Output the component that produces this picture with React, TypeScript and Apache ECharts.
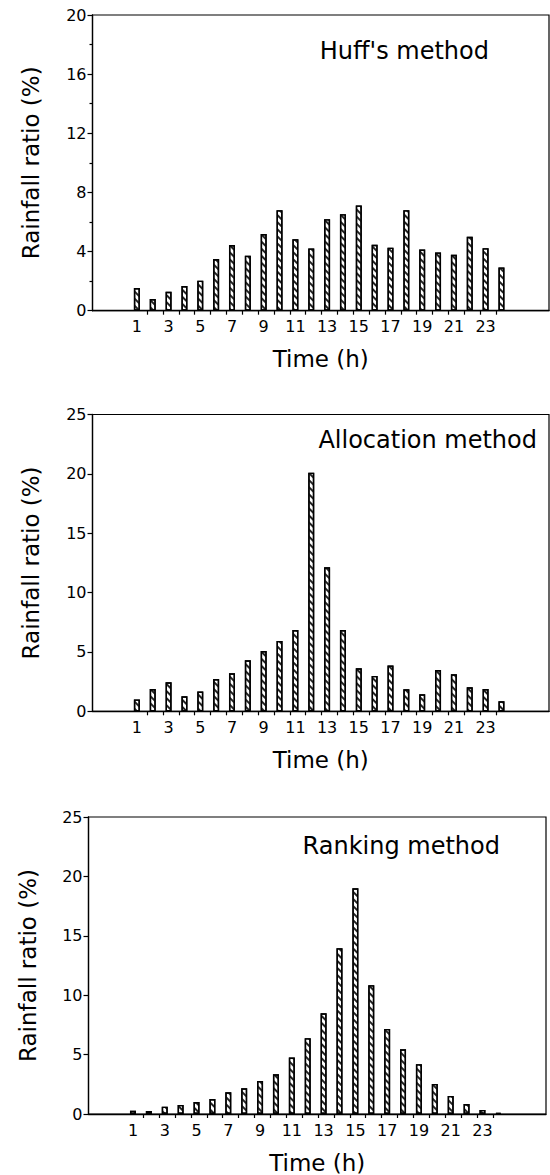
import React, { useEffect, useRef } from "react";
import * as echarts from "echarts";

// Hours 1..24
const hours: number[] = [1, 2, 3, 4, 5, 6, 7, 8, 9, 10, 11, 12, 13, 14, 15, 16, 17, 18, 19, 20, 21, 22, 23, 24];
const hourLabels: number[] = [1, 3, 5, 7, 9, 11, 13, 15, 17, 19, 21, 23];

const huffValues: number[] = [1.53, 0.79, 1.28, 1.67, 2.03, 3.49, 4.44, 3.72, 5.18, 6.8, 4.84, 4.21, 6.19, 6.53, 7.12, 4.46, 4.26, 6.8, 4.14, 3.94, 3.78, 5.0, 4.23, 2.93];
const allocationValues: number[] = [1.0, 1.88, 2.44, 1.26, 1.66, 2.72, 3.2, 4.3, 5.08, 5.93, 6.85, 20.1, 12.13, 6.85, 3.62, 2.98, 3.85, 1.85, 1.43, 3.48, 3.12, 2.02, 1.88, 0.84];
const rankingValues: number[] = [0.28, 0.25, 0.62, 0.76, 1.01, 1.26, 1.83, 2.16, 2.78, 3.34, 4.75, 6.38, 8.48, 13.96, 19.0, 10.84, 7.16, 5.45, 4.19, 2.53, 1.52, 0.84, 0.34, 0.1];

const panelTitles: string[] = ["Huff's method", "Allocation method", "Ranking method"];
const yMaxes: number[] = [20, 25, 25];
const yIntervals: number[] = [4, 5, 5];
const xAxisName = "Time (h)";
const yAxisName = "Rainfall ratio (%)";

const FONT = "DejaVu Sans";

export default function App() {
  const ref = useRef<HTMLDivElement>(null);

  useEffect(() => {
    if (!ref.current) return;
    const chart = echarts.init(ref.current, undefined, { renderer: "svg" });

    const grids = [
      { left: 92.5, top: 15, width: 456.5, height: 295.7 },
      { left: 92.5, top: 414.5, width: 456.5, height: 296.8 },
      { left: 88.5, top: 817, width: 457.5, height: 297 },
    ];
    const allValues = [huffValues, allocationValues, rankingValues];
    const tickPositions = hours.slice(0, 23).map((h) => h + 0.65);

    const xAxes = grids.map((_, i) => ({
      type: "value",
      gridIndex: i,
      min: -1.8,
      max: 27,
      name: xAxisName,
      nameLocation: "middle",
      nameGap: 37,
      nameTextStyle: { fontFamily: FONT, fontSize: 23, color: "#000" },
      axisLine: { show: true, onZero: false, lineStyle: { color: "#000", width: 1.3 } },
      axisTick: {
        show: true,
        customValues: tickPositions,
        length: 4,
        lineStyle: { color: "#000", width: 1.2 },
      },
      axisLabel: {
        customValues: hourLabels,
        fontFamily: FONT,
        fontSize: 16,
        color: "#000",
        margin: 8,
      },
      splitLine: { show: false },
    }));

    const yAxes = grids.map((_, i) => ({
      type: "value",
      gridIndex: i,
      min: 0,
      max: yMaxes[i],
      interval: yIntervals[i],
      name: yAxisName,
      nameLocation: "middle",
      nameGap: i === 2 ? 49 : 50,
      nameTextStyle: { fontFamily: FONT, fontSize: 23, color: "#000" },
      axisLine: { show: true, onZero: false, lineStyle: { color: "#000", width: 1.3 } },
      axisTick: { show: true, length: 5, lineStyle: { color: "#000", width: 1.2 } },
      minorTick: i === 0 ? { show: true, splitNumber: 2, length: 3, lineStyle: { color: "#000", width: 1.2 } } : { show: false },
      axisLabel: { fontFamily: FONT, fontSize: 16, color: "#000", margin: 6 },
      splitLine: { show: false },
      minorSplitLine: { show: false },
    }));

    const series = allValues.map((vals, i) => ({
      type: "bar",
      xAxisIndex: i,
      yAxisIndex: i,
      barWidth: 6,
      data: hours.map((h, k) => [h, vals[k]]),
      itemStyle: {
        color: "#ffffff",
        borderColor: "#000",
        borderWidth: 1.4,
        decal: {
          symbol: "rect",
          symbolSize: 1,
          color: "#222",
          dashArrayX: [1, 0],
          dashArrayY: [1.2, 2.2],
          rotation: Math.PI / 4,
        },
      },
      emphasis: { disabled: true },
    }));

    const titleAnchors = [
      { x: 489, y: 51 },
      { x: 537, y: 440 },
      { x: 500, y: 846 },
    ];

    chart.setOption({
      animation: false,
      grid: grids.map((g) => ({ ...g, show: true, borderColor: "#000", borderWidth: 1.2, backgroundColor: "transparent" })),
      xAxis: xAxes,
      yAxis: yAxes,
      series,
      graphic: panelTitles.map((t, i) => ({
        type: "text",
        x: titleAnchors[i].x,
        y: titleAnchors[i].y,
        style: {
          text: t,
          fontFamily: FONT,
          fontSize: 24,
          fill: "#000",
          textAlign: "right",
          textVerticalAlign: "middle",
        },
      })),
    });

    return () => {
      chart.dispose();
    };
  }, []);

  return (
    <div
      ref={ref}
      style={{ position: "absolute", left: 0, top: 0, width: 550, height: 1175, background: "#fff" }}
    />
  );
}
